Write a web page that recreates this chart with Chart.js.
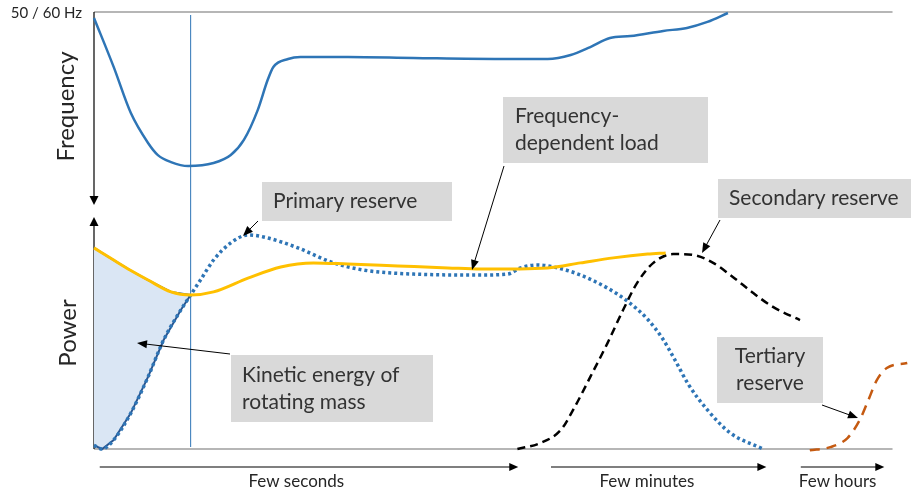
<!DOCTYPE html>
<html>
<head>
<meta charset="utf-8">
<script src="https://cdn.jsdelivr.net/npm/chart.js@4.4.1/dist/chart.umd.min.js"></script>
<style>
  html, body { margin: 0; padding: 0; background: #fff; }
  canvas { display: block; }
</style>
</head>
<body>
<canvas id="chart" width="913" height="498"></canvas>
<script>
// time is in arbitrary units (0..100), frequency and power in % of their panel
const freqTime  = [0, 2.4, 4.5, 6.6, 7.8, 9.4, 11.5, 14.6, 16.7, 18.3, 20.0, 21.2, 21.9, 23.7, 25.2, 31.0, 39.0, 49.6, 55.4, 58.2, 60.6, 63.0, 65.5, 69.5, 72.4, 74.9, 77.4];
const freqValue = [97.0, 72.4, 49.2, 34.2, 28.1, 24.6, 22.6, 24.1, 28.1, 35.7, 50.8, 65.8, 72.4, 76.4, 77.4, 77.4, 76.9, 76.4, 76.4, 78.4, 82.4, 86.9, 87.9, 90.5, 92.0, 95.0, 99.5];

const loadTime  = [0, 2.4, 4.5, 6.6, 9.4, 11.8, 14.6, 18.8, 22.8, 26.8, 31.0, 37.1, 43.2, 47.2, 55.4, 59.4, 63.4, 67.6, 69.8];
const loadPower = [84.5, 79.4, 75.0, 71.0, 66.0, 64.7, 66.0, 71.8, 76.5, 78.2, 77.7, 76.9, 76.1, 75.6, 76.1, 78.2, 80.3, 81.9, 82.4];

const primaryTime  = [0, 1.0, 2.4, 4.5, 6.6, 8.5, 10.6, 11.8, 13.0, 14.6, 16.7, 18.8, 20.7, 24.9, 28.9, 32.9, 39.0, 47.2, 50.5, 52.1, 54.1, 56.6, 59.4, 62.7, 65.1, 67.6, 69.4, 71.0, 72.6, 74.9, 77.7, 81.7];
const primaryPower = [1.5, 0, 3.8, 15.1, 30.3, 45.8, 58.4, 64.7, 71.0, 79.4, 86.6, 89.9, 89.1, 84.5, 78.6, 75.2, 73.5, 73.1, 73.5, 76.1, 77.3, 76.1, 73.1, 67.6, 62.2, 54.5, 46.5, 37.0, 27.0, 16.4, 6.7, 0];

const secondaryTime  = [51.7, 54.5, 57.0, 58.5, 60.6, 62.7, 64.6, 66.3, 68.3, 70.7, 73.2, 75.6, 78.0, 80.5, 82.9, 86.2];
const secondaryPower = [0, 2.5, 8.0, 16.4, 30.3, 44.5, 58.4, 69.7, 78.2, 81.9, 81.5, 78.2, 72.3, 65.5, 59.7, 54.2];

const tertiaryTime  = [87.4, 89.9, 92.0, 93.5, 94.4, 95.6, 96.8, 99.3];
const tertiaryPower = [-0.5, 0.8, 4.6, 12.2, 19.3, 29.0, 34.0, 36.1];

const nadirTime = 11.8;
const freqTickLabels = ['50 / 60 Hz'];
const timeSpanLabels = ['Few seconds', 'Few minutes', 'Few hours'];
const timeSpanStart  = [0.7, 55.8, 86.3];
const timeSpanEnd    = [51.8, 82.1, 96.5];
const timeSpanLabelAt = [24.7, 67.5, 90.8];

const toPoints = (xs, ys) => xs.map((x, i) => ({x, y: ys[i]}));

// energy area between the load curve and the primary response, up to the nadir
const kinetic = [
  ...toPoints(loadTime, loadPower).filter(p => p.x <= nadirTime),
  ...toPoints(primaryTime, primaryPower).filter(p => p.x <= nadirTime).reverse()
];

const notes = [
  {lines: ['Primary reserve'], box: [262, 182, 190, 39], textX: 273, from: [258, 221], to: [243, 236]},
  {lines: ['Frequency-', 'dependent load'], box: [503, 97, 205, 66], textX: 515, from: [504, 166], to: [472, 270]},
  {lines: ['Secondary reserve'], box: [718, 179, 193, 39], textX: 729, from: [720, 220], to: [702, 253]},
  {lines: ['Tertiary', 'reserve'], box: [717, 337, 106, 66], textX: 770, center: true, from: [822, 405], to: [858, 418]},
  {lines: ['Kinetic energy of', 'rotating mass'], box: [231, 355, 202, 67], textX: 242, from: [230, 354], to: [137, 343]}
];

function arrow(ctx, x1, y1, x2, y2, head, width) {
  const a = Math.atan2(y2 - y1, x2 - x1);
  ctx.beginPath();
  ctx.moveTo(x1, y1);
  ctx.lineTo(x2 - Math.cos(a) * head * 0.8, y2 - Math.sin(a) * head * 0.8);
  ctx.stroke();
  ctx.beginPath();
  ctx.moveTo(x2, y2);
  ctx.lineTo(x2 - head * Math.cos(a) + width * Math.sin(a), y2 - head * Math.sin(a) - width * Math.cos(a));
  ctx.lineTo(x2 - head * Math.cos(a) - width * Math.sin(a), y2 - head * Math.sin(a) + width * Math.cos(a));
  ctx.closePath();
  ctx.fill();
}

const framePlugin = {
  id: 'frame',
  beforeDatasetsDraw(chart) {
    const {ctx, scales: {x, yF, yP}} = chart;
    const left = x.getPixelForValue(0);
    const right = x.getPixelForValue(97.5);
    const top = yF.getPixelForValue(100);
    const base = yP.getPixelForValue(0);
    ctx.save();
    // nominal frequency and zero power lines
    ctx.strokeStyle = '#6f6f6f';
    ctx.lineWidth = 1.2;
    ctx.beginPath();
    ctx.moveTo(left, top); ctx.lineTo(right, top);
    ctx.moveTo(left, base); ctx.lineTo(right, base);
    ctx.stroke();
    // axes with arrows
    ctx.strokeStyle = '#000';
    ctx.fillStyle = '#000';
    ctx.lineWidth = 1.2;
    arrow(ctx, left, top, left, yF.getPixelForValue(3), 9, 4.5);
    arrow(ctx, left, base, left, yP.getPixelForValue(97.5), 9, 4.5);
    // frequency nadir marker
    const nx = x.getPixelForValue(nadirTime);
    ctx.strokeStyle = '#2e75b6';
    ctx.lineWidth = 1;
    ctx.beginPath();
    ctx.moveTo(nx, top + 3); ctx.lineTo(nx, base - 2);
    ctx.stroke();
    ctx.restore();
  },
  afterDatasetsDraw(chart) {
    const {ctx, scales: {x, yF, yP}} = chart;
    ctx.save();
    ctx.fillStyle = '#262626';
    ctx.textBaseline = 'middle';
    ctx.font = '15px Lato';
    ctx.textAlign = 'right';
    ctx.fillText(freqTickLabels[0], 82, yF.getPixelForValue(100) + 1);

    // axis titles
    ctx.font = '24px Lato';
    ctx.textAlign = 'center';
    const titles = [['Frequency', 66, (yF.top + yF.bottom) / 2 - 5], ['Power', 68, (yP.top + yP.bottom) / 2 + 3]];
    titles.forEach(([t, tx, ty]) => {
      ctx.save();
      ctx.translate(tx, ty);
      ctx.rotate(-Math.PI / 2);
      ctx.fillText(t, 0, 0);
      ctx.restore();
    });

    // callouts
    notes.forEach(n => {
      const [bx, by, bw, bh] = n.box;
      ctx.fillStyle = '#d9d9d9';
      ctx.fillRect(bx, by, bw, bh);
      ctx.fillStyle = '#333';
      ctx.font = '21px Lato';
      ctx.textAlign = n.center ? 'center' : 'left';
      const cy = by + bh / 2;
      n.lines.forEach((l, i) => {
        ctx.fillText(l, n.textX, cy + (i - (n.lines.length - 1) / 2) * 27);
      });
      ctx.strokeStyle = '#000';
      ctx.fillStyle = '#000';
      ctx.lineWidth = 1;
      arrow(ctx, n.from[0], n.from[1], n.to[0], n.to[1], 10, 4);
    });

    // time spans under the axis
    const ay = yP.bottom + 18;
    ctx.lineWidth = 1.2;
    ctx.font = '17px Lato';
    ctx.textAlign = 'center';
    timeSpanLabels.forEach((label, i) => {
      const x1 = x.getPixelForValue(timeSpanStart[i]);
      const x2 = x.getPixelForValue(timeSpanEnd[i]);
      ctx.strokeStyle = '#000';
      ctx.fillStyle = '#000';
      arrow(ctx, x1, ay, x2, ay, 9, 4);
      ctx.fillStyle = '#262626';
      ctx.fillText(label, x.getPixelForValue(timeSpanLabelAt[i]), ay + 15);
    });
    ctx.restore();
  }
};

new Chart(document.getElementById('chart'), {
  type: 'line',
  data: {
    datasets: [
      {
        label: 'Frequency-dependent load',
        data: toPoints(loadTime, loadPower),
        yAxisID: 'yP',
        borderColor: '#ffc000',
        borderWidth: 3,
        cubicInterpolationMode: 'monotone',
        pointRadius: 0,
        clip: false
      },
      {
        label: 'Primary reserve',
        data: toPoints(primaryTime, primaryPower),
        yAxisID: 'yP',
        borderColor: '#2e75b6',
        borderWidth: 3.5,
        borderDash: [3, 3],
        borderCapStyle: 'butt',
        cubicInterpolationMode: 'monotone',
        pointRadius: 0,
        clip: false
      },
      {
        label: 'Secondary reserve',
        data: toPoints(secondaryTime, secondaryPower),
        yAxisID: 'yP',
        borderColor: '#000',
        borderWidth: 2.5,
        borderDash: [8, 5],
        cubicInterpolationMode: 'monotone',
        pointRadius: 0,
        clip: false
      },
      {
        label: 'Tertiary reserve',
        data: toPoints(tertiaryTime, tertiaryPower),
        yAxisID: 'yP',
        borderColor: '#c55a11',
        borderWidth: 2.5,
        borderDash: [10, 7],
        cubicInterpolationMode: 'monotone',
        pointRadius: 0,
        clip: false
      },
      {
        label: 'Frequency',
        data: toPoints(freqTime, freqValue),
        yAxisID: 'yF',
        borderColor: '#2e75b6',
        borderWidth: 2.5,
        cubicInterpolationMode: 'monotone',
        pointRadius: 0,
        clip: false
      },
      {
        label: 'Kinetic energy of rotating mass',
        data: kinetic,
        yAxisID: 'yP',
        borderColor: '#2a5690',
        borderWidth: 2,
        backgroundColor: '#dae6f4',
        fill: 'shape',
        tension: 0,
        pointRadius: 0,
        clip: false
      }
    ]
  },
  options: {
    responsive: false,
    animation: false,
    events: [],
    layout: {padding: {left: 94, right: 0, top: 12, bottom: 49}},
    plugins: {legend: {display: false}, tooltip: {enabled: false}},
    scales: {
      x: {type: 'linear', min: 0, max: 100, display: false},
      yP: {type: 'linear', position: 'left', min: 0, max: 100, display: false, stack: 'panels', stackWeight: 238},
      yF: {type: 'linear', position: 'left', min: 0, max: 100, display: false, stack: 'panels', stackWeight: 199}
    }
  },
  plugins: [framePlugin]
});
</script>
</body>
</html>
